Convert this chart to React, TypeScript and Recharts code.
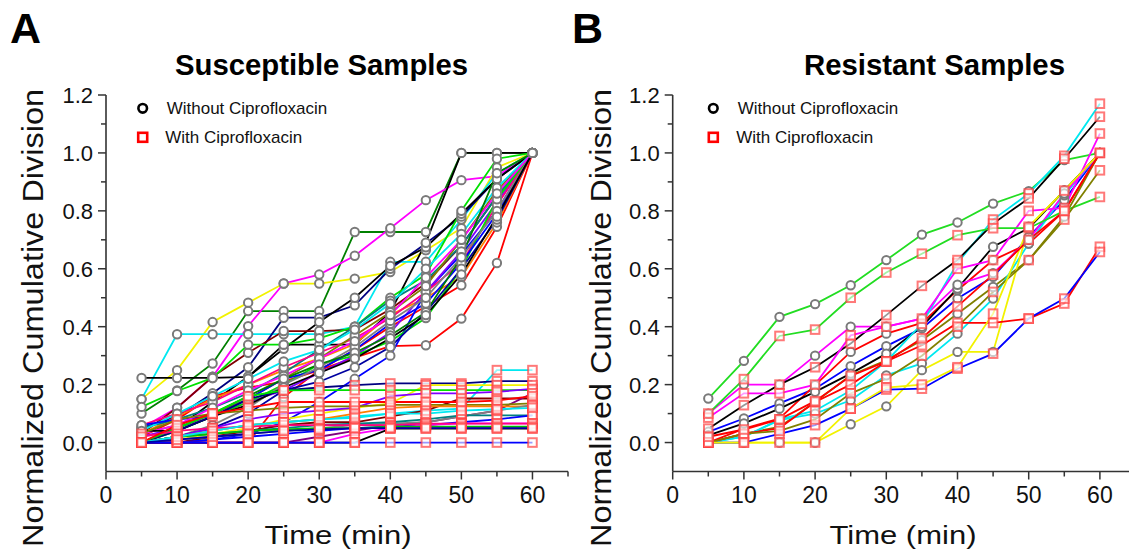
import React from 'react';
import { LineChart, Line, XAxis, YAxis } from 'recharts';

// ---------- data ----------
const TIMES = [5, 10, 15, 20, 25, 30, 35, 40, 45, 50, 55, 60];

const X_TICKS = [0, 5, 10, 15, 20, 25, 30, 35, 40, 45, 50, 55, 60, 65];
const X_LABELS = [0, 10, 20, 30, 40, 50, 60];
const Y_TICKS = [0, 0.1, 0.2, 0.3, 0.4, 0.5, 0.6, 0.7, 0.8, 0.9, 1.0, 1.1, 1.2];
const Y_LABELS = ['0.0', '0.2', '0.4', '0.6', '0.8', '1.0', '1.2'];

const TITLE_A = 'Susceptible Samples';
const TITLE_B = 'Resistant Samples';
const LEGEND_WITHOUT = 'Without Ciprofloxacin';
const LEGEND_WITH = 'With Ciprofloxacin';
const X_TITLE = 'Time (min)';
const Y_TITLE = 'Normalized Cumulative Division';

// Panel A – without ciprofloxacin
const aW01 = [0.10, 0.18, 0.273, 0.454, 0.454, 0.454, 0.727, 0.727, 0.727, 1.0, 1.0, 1.0];
const aW02 = [0.05, 0.12, 0.227, 0.402, 0.549, 0.58, 0.645, 0.74, 0.837, 0.906, 0.92, 1.0];
const aW03 = [0.15, 0.25, 0.416, 0.483, 0.549, 0.549, 0.566, 0.589, 0.664, 0.74, 0.95, 1.0];
const aW04 = [0.15, 0.374, 0.374, 0.374, 0.374, 0.374, 0.40, 0.624, 0.624, 0.77, 0.93, 1.0];
const aW05 = [0.05, 0.09, 0.17, 0.26, 0.431, 0.431, 0.474, 0.60, 0.687, 0.78, 0.91, 1.0];
const aW06 = [0.223, 0.223, 0.223, 0.227, 0.324, 0.416, 0.50, 0.61, 0.674, 0.79, 0.91, 1.0];
const aW07 = [0.0, 0.05, 0.14, 0.227, 0.338, 0.338, 0.338, 0.45, 0.69, 1.0, 1.0, 1.0];
const aW08 = [0.03, 0.12, 0.227, 0.31, 0.385, 0.385, 0.39, 0.46, 0.55, 0.68, 0.85, 1.0];
const aW09 = [0.123, 0.178, 0.223, 0.338, 0.338, 0.36, 0.40, 0.50, 0.58, 0.80, 0.98, 1.0];
const aW10 = [0.0, 0.0, 0.0, 0.0, 0.157, 0.25, 0.293, 0.333, 0.336, 0.428, 0.62, 1.0];
const aW11 = [0.02, 0.08, 0.16, 0.19, 0.21, 0.25, 0.32, 0.40, 0.47, 0.543, 0.745, 1.0];
const aW12 = [0.03, 0.09, 0.15, 0.20, 0.25, 0.29, 0.34, 0.44, 0.50, 0.572, 0.76, 1.0];
const aW13 = [0.0, 0.0, 0.01, 0.03, 0.07, 0.14, 0.22, 0.30, 0.52, 0.65, 0.80, 1.0];
const aW14 = [0.05, 0.08, 0.12, 0.17, 0.24, 0.32, 0.40, 0.49, 0.56, 0.68, 0.85, 1.0];
const aW15 = [0.02, 0.05, 0.09, 0.14, 0.18, 0.24, 0.30, 0.38, 0.52, 0.66, 0.83, 1.0];
const aW16 = [0.06, 0.10, 0.14, 0.20, 0.26, 0.31, 0.36, 0.43, 0.52, 0.62, 0.82, 1.0];
const aW17 = [0.03, 0.06, 0.10, 0.15, 0.22, 0.29, 0.37, 0.45, 0.54, 0.70, 0.87, 1.0];
const aW18 = [0.0, 0.04, 0.09, 0.14, 0.20, 0.27, 0.30, 0.35, 0.43, 0.60, 0.84, 1.0];
const aW19 = [0.04, 0.10, 0.16, 0.22, 0.28, 0.32, 0.39, 0.48, 0.60, 0.72, 0.88, 1.0];
const aW20 = [0.06, 0.08, 0.09, 0.15, 0.22, 0.25, 0.32, 0.41, 0.48, 0.62, 0.79, 1.0];
const aW21 = [0.0, 0.02, 0.06, 0.12, 0.20, 0.26, 0.33, 0.42, 0.50, 0.64, 0.80, 1.0];
const aW22 = [0.0, 0.02, 0.05, 0.10, 0.18, 0.21, 0.26, 0.33, 0.45, 0.60, 0.77, 1.0];
const aW23 = [0.03, 0.06, 0.12, 0.18, 0.23, 0.29, 0.35, 0.44, 0.57, 0.70, 0.86, 1.0];
const aW24 = [0.0, 0.05, 0.10, 0.16, 0.22, 0.27, 0.31, 0.37, 0.45, 0.64, 0.93, 1.0];
const aW25 = [0.04, 0.04, 0.09, 0.13, 0.19, 0.24, 0.29, 0.36, 0.44, 0.58, 0.78, 1.0];

// Panel A – with ciprofloxacin
const aC01 = [0.0, 0.02, 0.04, 0.06, 0.07, 0.08, 0.09, 0.10, 0.11, 0.117, 0.25, 0.25];
const aC02 = [0.0, 0.04, 0.09, 0.15, 0.18, 0.19, 0.198, 0.204, 0.204, 0.204, 0.212, 0.212];
const aC03 = [0.0, 0.01, 0.03, 0.05, 0.08, 0.10, 0.12, 0.135, 0.198, 0.198, 0.198, 0.198];
const aC04 = [0.0, 0.05, 0.10, 0.16, 0.18, 0.181, 0.181, 0.181, 0.181, 0.181, 0.181, 0.181];
const aC05 = [0.0, 0.02, 0.05, 0.08, 0.10, 0.11, 0.12, 0.16, 0.17, 0.17, 0.175, 0.185];
const aC06 = [0.0, 0.0, 0.02, 0.04, 0.06, 0.07, 0.07, 0.09, 0.11, 0.152, 0.152, 0.152];
const aC07 = [0.0, 0.0, 0.0, 0.0, 0.0, 0.02, 0.04, 0.06, 0.07, 0.09, 0.11, 0.17];
const aC08 = [0.03, 0.08, 0.10, 0.11, 0.12, 0.125, 0.125, 0.13, 0.13, 0.13, 0.13, 0.135];
const aC09 = [0.0, 0.02, 0.04, 0.06, 0.07, 0.08, 0.10, 0.12, 0.125, 0.125, 0.125, 0.125];
const aC10 = [0.0, 0.01, 0.02, 0.03, 0.04, 0.05, 0.06, 0.065, 0.07, 0.09, 0.11, 0.13];
const aC11 = [0.0, 0.02, 0.03, 0.04, 0.05, 0.06, 0.065, 0.07, 0.08, 0.094, 0.094, 0.094];
const aC12 = [0.0, 0.0, 0.01, 0.02, 0.03, 0.04, 0.05, 0.055, 0.06, 0.07, 0.08, 0.094];
const aC13 = [0.0, 0.0, 0.0, 0.0, 0.0, 0.0, 0.03, 0.05, 0.06, 0.066, 0.066, 0.066];
const aC14 = [0.02, 0.04, 0.05, 0.055, 0.06, 0.06, 0.06, 0.06, 0.065, 0.065, 0.065, 0.065];
const aC15 = [0.0, 0.02, 0.03, 0.04, 0.045, 0.05, 0.05, 0.055, 0.055, 0.055, 0.055, 0.055];
const aC16 = [0.0, 0.0, 0.0, 0.0, 0.0, 0.0, 0.0, 0.048, 0.048, 0.048, 0.048, 0.048];
const aC17 = [0.0, 0.0, 0.0, 0.0, 0.0, 0.0, 0.0, 0.0, 0.0, 0.0, 0.0, 0.0];
const aC18 = [0.0, 0.06, 0.10, 0.12, 0.14, 0.14, 0.14, 0.14, 0.14, 0.14, 0.145, 0.16];
const aC19 = [0.0, 0.02, 0.04, 0.06, 0.07, 0.08, 0.085, 0.10, 0.10, 0.11, 0.115, 0.12];
const aC20 = [0.0, 0.01, 0.02, 0.03, 0.04, 0.045, 0.05, 0.05, 0.05, 0.05, 0.05, 0.05];

// Panel B – without ciprofloxacin
const bW01 = [0.152, 0.282, 0.434, 0.478, 0.543, 0.63, 0.718, 0.76, 0.825, 0.868, 0.975, 1.0];
const bW02 = [0.037, 0.083, 0.135, 0.186, 0.264, 0.333, 0.394, 0.497, 0.572, 0.71, 0.837, 1.0];
const bW03 = [0.0, 0.048, 0.083, 0.198, 0.313, 0.376, 0.413, 0.526, 0.63, 0.687, 0.80, 1.0];
const bW04 = [0.0, 0.031, 0.054, 0.14, 0.232, 0.284, 0.353, 0.445, 0.537, 0.63, 0.78, 1.0];
const bW05 = [0.0, 0.02, 0.077, 0.10, 0.146, 0.232, 0.273, 0.376, 0.497, 0.687, 0.854, 1.0];
const bW06 = [0.0, 0.0, 0.0, 0.0, 0.063, 0.125, 0.25, 0.313, 0.313, 0.745, 0.87, 1.0];
const bW07 = [0.025, 0.066, 0.117, 0.175, 0.238, 0.307, 0.40, 0.532, 0.676, 0.74, 0.87, 1.0];
const bW08 = [0.10, 0.20, 0.20, 0.30, 0.40, 0.40, 0.428, 0.545, 0.585, 0.70, 0.86, 1.0];

// Panel B – with ciprofloxacin
const bC01 = [0.0, 0.02, 0.08, 0.11, 0.18, 0.28, 0.41, 0.62, 0.77, 0.86, 0.99, 1.17];
const bC02 = [0.048, 0.129, 0.20, 0.26, 0.342, 0.44, 0.541, 0.63, 0.756, 0.843, 0.98, 1.125];
const bC03 = [0.086, 0.17, 0.17, 0.20, 0.37, 0.40, 0.428, 0.60, 0.63, 0.80, 0.81, 1.067];
const bC04 = [0.10, 0.219, 0.368, 0.39, 0.50, 0.587, 0.652, 0.716, 0.74, 0.74, 0.80, 0.848];
const bC05 = [0.0, 0.03, 0.05, 0.14, 0.20, 0.28, 0.336, 0.413, 0.413, 0.428, 0.48, 0.676];
const bC06 = [0.0, 0.0, 0.03, 0.06, 0.117, 0.183, 0.186, 0.255, 0.307, 0.428, 0.497, 0.658];
const bC07 = [0.0, 0.03, 0.04, 0.08, 0.17, 0.22, 0.30, 0.40, 0.52, 0.63, 0.77, 0.94];
const bC08 = [0.0, 0.0, 0.0, 0.0, 0.117, 0.19, 0.20, 0.26, 0.445, 0.745, 0.87, 1.0];
const bC09 = [0.02, 0.045, 0.08, 0.143, 0.23, 0.28, 0.36, 0.47, 0.58, 0.70, 0.80, 1.0];

const A_WITHOUT = [aW01, aW02, aW03, aW04, aW05, aW06, aW07, aW08, aW09, aW10, aW11, aW12, aW13, aW14, aW15, aW16, aW17, aW18, aW19, aW20, aW21, aW22, aW23, aW24, aW25];
const A_WITH = [aC01, aC02, aC03, aC04, aC05, aC06, aC07, aC08, aC09, aC10, aC11, aC12, aC13, aC14, aC15, aC16, aC17, aC18, aC19, aC20];
const B_WITHOUT = [bW01, bW02, bW03, bW04, bW05, bW06, bW07, bW08];
const B_WITH = [bC01, bC02, bC03, bC04, bC05, bC06, bC07, bC08, bC09];

// ---------- styles ----------
const A_WITHOUT_COLORS = ['#008000', '#ff00ff', '#f2f200', '#00e8f0', '#000080', '#000000', '#000000', '#800000', '#00e000', '#ff0000', '#ff0000', '#ff8000', '#0000ff', '#008080', '#8000ff', '#ff0080', '#808000', '#00e000', '#00e8f0', '#0000ff', '#808080', '#0000a0', '#ff00ff', '#008000', '#000000'];
const A_WITH_COLORS = ['#00e8f0', '#000080', '#f2f200', '#00e000', '#8000ff', '#800000', '#800080', '#808000', '#ff8000', '#808080', '#008080', '#0000ff', '#ff00ff', '#ff0080', '#00c000', '#000000', '#0000ff', '#ff0000', '#00e8f0', '#0000a0'];
const B_WITHOUT_COLORS = ['#22dd22', '#0000ff', '#ff0000', '#808000', '#00e8f0', '#f2f200', '#000000', '#ff00ff'];
const B_WITH_COLORS = ['#00e8f0', '#000000', '#ff00ff', '#22dd22', '#ff0000', '#0000ff', '#808000', '#f2f200', '#ff0000'];

const FONT = 'Liberation Sans, Arial, Helvetica, sans-serif';
const AXIS_COLOR = '#333';
const PLOT_BOTTOM = 471.5;

function buildRows(wo: number[][], wi: number[][]) {
  return TIMES.map((t, i) => {
    const r: Record<string, number> = { t };
    wo.forEach((s, j) => { r['w' + j] = s[i]; });
    wi.forEach((s, j) => { r['c' + j] = s[i]; });
    return r;
  });
}

const rowsA = buildRows(A_WITHOUT, A_WITH);
const rowsB = buildRows(B_WITHOUT, B_WITH);

const circleDot = (p: any) => {
  if (p.cx == null || p.cy == null) return <g key={`e${p.index}`} />;
  return <circle key={`c${p.index}`} cx={p.cx} cy={p.cy} r={4.2} fill="#fff" stroke="#7a7a7a" strokeWidth={2} />;
};
const squareDot = (p: any) => {
  if (p.cx == null || p.cy == null) return <g key={`e${p.index}`} />;
  return <rect key={`s${p.index}`} x={p.cx - 4.3} y={p.cy - 4.3} width={8.6} height={8.6} fill="#fff" fillOpacity={0.6} stroke="#ff4040" strokeOpacity={0.7} strokeWidth={2} />;
};

const makeXTick = () => (p: any) => {
  const v = Number(p.payload.value);
  const major = X_LABELS.includes(v);
  const x = p.x;
  return (
    <g key={`xt${v}`}>
      <line x1={x} x2={x} y1={PLOT_BOTTOM} y2={PLOT_BOTTOM + (major ? 8 : 5)} stroke={AXIS_COLOR} strokeWidth={1.5} />
      {major && (
        <text x={x} y={PLOT_BOTTOM + 31} textAnchor="middle" fontSize={23} fontFamily={FONT} fill="#111">{v}</text>
      )}
    </g>
  );
};

const makeYTick = (axisX: number) => (p: any) => {
  const v = Number(p.payload.value);
  const label = v.toFixed(1);
  const major = Y_LABELS.includes(label);
  const y = p.y;
  return (
    <g key={`yt${label}`}>
      <line x1={axisX - (major ? 8 : 5)} x2={axisX} y1={y} y2={y} stroke={AXIS_COLOR} strokeWidth={1.5} />
      {major && (
        <text x={axisX - 13} y={y + 8} textAnchor="end" fontSize={22} fontFamily={FONT} fill="#111">{label}</text>
      )}
    </g>
  );
};

function Panel(props: { rows: any[]; wo: number[][]; wi: number[][]; woColors: string[]; wiColors: string[]; width: number; marginLeft: number; marginRight: number }) {
  const { rows, wo, wi, woColors, wiColors, width, marginLeft, marginRight } = props;
  const axisX = marginLeft + 60;
  return (
    <LineChart width={width} height={557} data={rows} margin={{ top: 95, right: marginRight, bottom: 25.5, left: marginLeft }}>
      <XAxis
        dataKey="t"
        type="number"
        domain={[0, 65]}
        ticks={X_TICKS}
        interval={0}
        height={60}
        tickSize={0}
        tickMargin={0}
        tickLine={false}
        axisLine={{ stroke: AXIS_COLOR, strokeWidth: 1.6 }}
        tick={makeXTick()}
        allowDataOverflow
      />
      <YAxis
        type="number"
        domain={[-0.1, 1.2]}
        ticks={Y_TICKS}
        interval={0}
        width={60}
        tickSize={0}
        tickMargin={0}
        tickLine={false}
        axisLine={{ stroke: AXIS_COLOR, strokeWidth: 1.6 }}
        tick={makeYTick(axisX)}
        allowDataOverflow
      />
      {wo.map((_, j) => (
        <Line key={'w' + j} type="linear" dataKey={'w' + j} stroke={woColors[j]} strokeWidth={1.8} dot={circleDot} activeDot={false} isAnimationActive={false} />
      ))}
      {wi.map((_, j) => (
        <Line key={'c' + j} type="linear" dataKey={'c' + j} stroke={wiColors[j]} strokeWidth={1.8} dot={squareDot} activeDot={false} isAnimationActive={false} />
      ))}
    </LineChart>
  );
}

function Legend(props: { cx: number; tx: number }) {
  const { cx, tx } = props;
  return (
    <g>
      <circle cx={cx} cy={108.3} r={4.3} fill="#fff" stroke="#000" strokeWidth={2.6} />
      <text x={tx} y={114} fontSize={17} fontFamily={FONT} fill="#111">{LEGEND_WITHOUT}</text>
      <rect x={cx - 4.5} y={132.8} width={9} height={9} fill="#fff" stroke="#ff0000" strokeWidth={2.6} />
      <text x={tx - 1.5} y={143} fontSize={17} fontFamily={FONT} fill="#111">{LEGEND_WITH}</text>
    </g>
  );
}

export default function App() {
  return (
    <div style={{ position: 'absolute', left: 0, top: 0, width: 1129, height: 557, overflow: 'hidden', background: '#fff' }}>
      <div style={{ position: 'absolute', left: 0, top: 0 }}>
        <Panel rows={rowsA} wo={A_WITHOUT} wi={A_WITH} woColors={A_WITHOUT_COLORS} wiColors={A_WITH_COLORS} width={580} marginLeft={46} marginRight={12} />
      </div>
      <div style={{ position: 'absolute', left: 580, top: 0 }}>
        <Panel rows={rowsB} wo={B_WITHOUT} wi={B_WITH} woColors={B_WITHOUT_COLORS} wiColors={B_WITH_COLORS} width={560} marginLeft={32.7} marginRight={4.5} />
      </div>
      <svg width={1129} height={557} style={{ position: 'absolute', left: 0, top: 0, pointerEvents: 'none' }}>
        <text x={10} y={43} fontSize={43} fontWeight="bold" fontFamily={FONT} fill="#000">A</text>
        <text x={572} y={43} fontSize={43} fontWeight="bold" fontFamily={FONT} fill="#000">B</text>
        <text x={321.5} y={75} textAnchor="middle" fontSize={30} fontWeight="bold" fontFamily={FONT} fill="#000" textLength={293} lengthAdjust="spacingAndGlyphs">{TITLE_A}</text>
        <text x={934.5} y={75} textAnchor="middle" fontSize={30} fontWeight="bold" fontFamily={FONT} fill="#000" textLength={261} lengthAdjust="spacingAndGlyphs">{TITLE_B}</text>
        <text transform="translate(43,318) rotate(-90)" textAnchor="middle" fontSize={30} fontFamily={FONT} fill="#111" textLength={458} lengthAdjust="spacingAndGlyphs">{Y_TITLE}</text>
        <text transform="translate(611,318) rotate(-90)" textAnchor="middle" fontSize={30} fontFamily={FONT} fill="#111" textLength={458} lengthAdjust="spacingAndGlyphs">{Y_TITLE}</text>
        <text x={338} y={544} textAnchor="middle" fontSize={26} fontFamily={FONT} fill="#111" textLength={147} lengthAdjust="spacingAndGlyphs">{X_TITLE}</text>
        <text x={903} y={544} textAnchor="middle" fontSize={26} fontFamily={FONT} fill="#111" textLength={147} lengthAdjust="spacingAndGlyphs">{X_TITLE}</text>
        <Legend cx={142.7} tx={166.7} />
        <Legend cx={713.3} tx={737.7} />
      </svg>
    </div>
  );
}
